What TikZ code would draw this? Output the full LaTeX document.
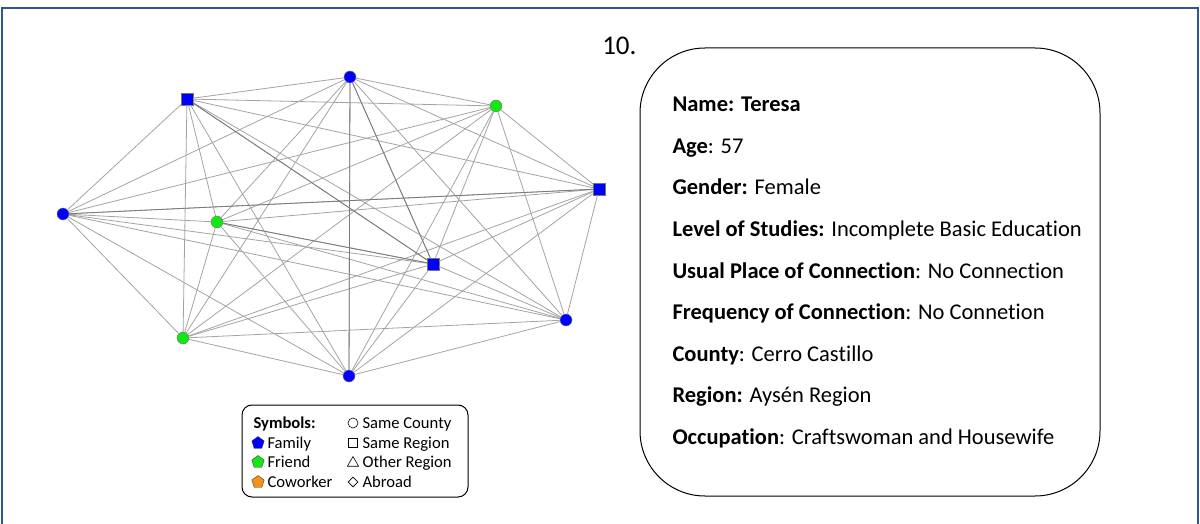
\documentclass[tikz,border=0pt]{standalone}
\usepackage{fontspec}
\setmainfont[Ligatures=NoCommon]{Carlito}
\usetikzlibrary{shapes.geometric}
\definecolor{frameblue}{RGB}{47,85,151}
\definecolor{famblue}{RGB}{0,0,255}
\definecolor{friendgreen}{RGB}{20,232,20}
\definecolor{coworkorange}{RGB}{240,150,20}

\begin{document}
\begin{tikzpicture}[x=1pt,y=-1pt,
  every node/.style={font=\fontsize{22.5}{26}\selectfont},
  same county/.style={circle,draw=black!55,inner sep=0pt,minimum size=12pt},
  same region/.style={rectangle,draw=black!55,inner sep=0pt,minimum size=12pt},
  tie/.style={draw=black!36,line width=0.8pt},
  strong tie/.style={draw=black!52,line width=0.8pt},
  field/.style={anchor=base west},
  key/.style={anchor=base west,font=\fontsize{16.6}{19}\selectfont},
  pent/.style={regular polygon,regular polygon sides=5,draw=black!75,inner sep=0pt,minimum size=13pt},
  openkey/.style={draw=black,inner sep=0pt,line width=0.6pt}]
  \useasboundingbox (0,0) rectangle (1200,524);
  \draw[frameblue,line width=1.5pt] (2,540) -- (2,8) -- (1198,8) -- (1198,540);

  % network of alters
  \node[same county,fill=famblue] (alter1) at (350,77) {};
  \node[same region,fill=famblue] (alter2) at (187,99) {};
  \node[same county,fill=friendgreen] (alter3) at (496,106) {};
  \node[same region,fill=famblue] (alter4) at (599,189) {};
  \node[same county,fill=famblue] (alter5) at (63,214) {};
  \node[same county,fill=friendgreen] (alter6) at (217,222) {};
  \node[same region,fill=famblue] (alter7) at (433,264) {};
  \node[same county,fill=famblue] (alter8) at (566,320) {};
  \node[same county,fill=friendgreen] (alter9) at (183,338) {};
  \node[same county,fill=famblue] (alter10) at (349,376) {};
  \foreach \i in {1,...,9}{
    \pgfmathtruncatemacro{\first}{\i+1}
    \foreach \j in {\first,...,10}
      \draw[tie] (alter\i) -- (alter\j);
  }
  \foreach \i/\j in {1/10,6/7,2/7,1/7,5/4}
    \draw[strong tie] (alter\i) -- (alter\j);

  % legend
  \node[draw,rounded corners=10pt,line width=1pt,minimum width=226pt,minimum height=92pt] (legend) at (355,451) {};
  \node[key] (symbols) at (250,428) {\textbf{Symbols:}};
  \node[pent,fill=famblue] (famkey) at (258,443) {};
  \node[key] (family) at (264,448) {Family};
  \node[pent,fill=friendgreen] (friendkey) at (258,462) {};
  \node[key] (friend) at (264,467) {Friend};
  \node[pent,fill=coworkorange] (workkey) at (258,482) {};
  \node[key] (coworker) at (264,487) {Coworker};
  \node[openkey,circle,minimum size=10pt] (countykey) at (353,423) {};
  \node[key] (county) at (359,428) {Same County};
  \node[openkey,rectangle,minimum size=9.5pt] (regionkey) at (353,443) {};
  \node[key] (region) at (359,448) {Same Region};
  \node[openkey,regular polygon,regular polygon sides=3,minimum size=13pt] (otherkey) at (353,463) {};
  \node[key] (other) at (359,467) {Other Region};
  \node[openkey,diamond,minimum size=10pt] (abroadkey) at (353,482) {};
  \node[key] (abroad) at (359,487) {Abroad};

  % profile card
  \node[anchor=base east,font=\fontsize{27}{30}\selectfont] (number) at (640,55) {10.};
  \node[draw,line width=1pt,rounded corners=65pt,minimum width=460pt,minimum height=448pt] (card) at (870,272) {};
  \node[field] (name) at (669,112) {\textbf{Name: Teresa}};
  \node[field] (age) at (669,153.5) {\textbf{Age}: 57};
  \node[field] (gender) at (669,195) {\textbf{Gender:} Female};
  \node[field] (studies) at (669,236.5) {\textbf{Level of Studies:} Incomplete Basic Education};
  \node[field] (place) at (669,278) {\textbf{Usual Place of Connection}: No Connection};
  \node[field] (frequency) at (669,319.5) {\textbf{Frequency of Connection}: No Connetion};
  \node[field] (county) at (669,361) {\textbf{County}: Cerro Castillo};
  \node[field] (region) at (669,402.5) {\textbf{Region:} Aysén Region};
  \node[field] (occupation) at (669,444) {\textbf{Occupation}: Craftswoman and Housewife};
\end{tikzpicture}
\end{document}
